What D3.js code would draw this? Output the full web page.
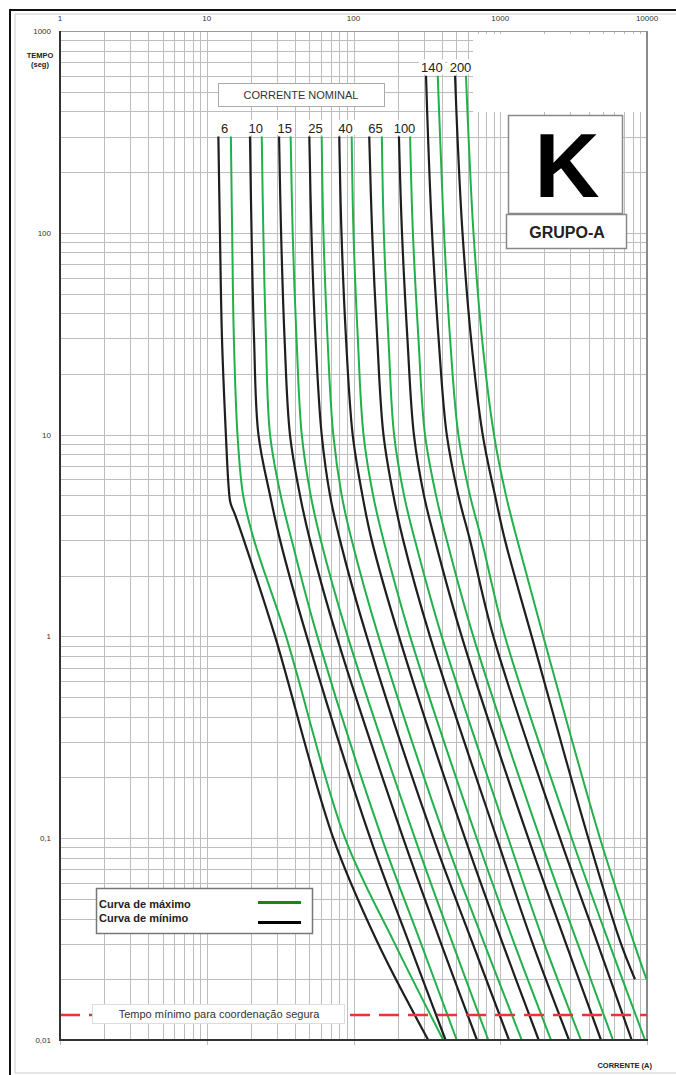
<!DOCTYPE html>
<html>
<head>
<meta charset="utf-8">
<script src="https://cdn.jsdelivr.net/npm/d3@7"></script>
<style>
  html, body { margin: 0; padding: 0; background: #fff; }
  svg { display: block; font-family: "Liberation Sans", Arial, sans-serif; }
</style>
</head>
<body>
<svg id="chart" width="676" height="1075"></svg>
<script>
// ---------------- DATA ----------------
const ratings = ["6", "10", "15", "25", "40", "65", "100", "140", "200"];

// [current (A), time (s)] — minimum melting curves (black)
const minCurves = [
  [[12.0,300],[12.3,100],[12.7,30],[13.5,10],[14.1,5.5],[14.5,4.6],[15.6,4.0],[17.9,3],[29.2,1],[72.8,0.1],[144,0.031],[323,0.01]],
  [[19.7,300],[20.2,100],[21.0,30],[22.5,10],[27.0,5],[31.6,3],[48.0,1],[130,0.1],[236,0.031],[424,0.01]],
  [[31.1,300],[32.1,100],[33.9,30],[36.9,10],[43.2,5],[50.5,3],[76.8,1],[218,0.1],[389,0.031],[694,0.01]],
  [[50.0,300],[51.7,100],[55.1,30],[60.7,10],[69.2,5],[80.9,3],[123,1],[350,0.1],[639,0.031],[1147,0.01]],
  [[80.0,300],[82.8,100],[88.9,30],[98.7,10],[115,5],[133,3],[204,1],[575,0.1],[1023,0.031],[1828,0.01]],
  [[128,300],[134,100],[145,30],[160,10],[187,5],[218,3],[332,1],[946,0.1],[1638,0.031],[2940,0.01]],
  [[204,300],[214,100],[233,30],[258,10],[302,5],[359,3],[546,1],[1552,0.1],[2761,0.031],[4858,0.01]],
  [[312,600],[322,300],[343,100],[380,30],[432,10],[518,5],[622,3],[897,1],[2553,0.1],[4540,0.031],[7864,0.01]],
  [[492,600],[511,300],[553,100],[632,30],[759,10],[921,5],[1077,3],[1638,1],[3981,0.1],[6544,0.031],[8282,0.02]]
];

// [current (A), time (s)] — maximum clearing curves (green)
const maxCurves = [
  [[14.6,300],[14.9,100],[15.3,30],[16.2,10],[17.7,5],[21.0,3],[34.7,1],[87.5,0.1],[187,0.031],[409,0.01]],
  [[23.7,300],[24.3,100],[25.3,30],[27.0,10],[31.9,5],[37.9,3],[56.7,1],[156,0.1],[284,0.031],[505,0.01]],
  [[37.3,300],[38.5,100],[40.9,30],[44.4,10],[51.1,5],[59.8,3],[91.3,1],[262,0.1],[467,0.031],[829,0.01]],
  [[60.7,300],[62.4,100],[66.5,30],[72.8,10],[83.1,5],[97.2,3],[148,1],[420,0.1],[766,0.031],[1400,0.01]],
  [[97.2,300],[100,100],[107,30],[117,10],[136,5],[160,3],[243,1],[691,0.1],[1227,0.031],[2217,0.01]],
  [[156,300],[161,100],[173,30],[189,10],[221,5],[262,3],[399,1],[1134,0.1],[1965,0.031],[3549,0.01]],
  [[243,300],[254,100],[277,30],[307,10],[365,5],[432,3],[655,1],[1865,0.1],[3318,0.031],[5864,0.01]],
  [[375,600],[389,300],[414,100],[455,30],[518,10],[622,5],[747,3],[1077,1],[3067,0.1],[5447,0.031],[9688,0.01]],
  [[584,600],[608,300],[657,100],[751,30],[906,10],[1094,5],[1306,3],[1965,1],[4783,0.1],[8064,0.031],[9918,0.02]]
];

const xTickValues = [1, 10, 100, 1000, 10000];
const xTickLabels = ["1", "10", "100", "1000", "10000"];
const yTickValues = [1000, 100, 10, 1, 0.1, 0.01];
const yTickLabels = ["1000", "100", "10", "1", "0,1", "0,01"];
const minCoordTime = 0.0133;

const titleLetter = "K";
const groupLabel = "GRUPO-A";
const nominalLabel = "CORRENTE NOMINAL";
const legendLabels = ["Curva de máximo", "Curva de mínimo"];
const xAxisTitle = "CORRENTE (A)";
const yAxisTitle = ["TEMPO", "(seg)"];
const coordLabel = "Tempo mínimo para coordenação segura";

// ---------------- LAYOUT ----------------
const svg = d3.select("#chart");
const L = 60, R = 647, T = 31, B = 1040;
const x = d3.scaleLog().domain([1, 10000]).range([L, R]);
const y = d3.scaleLog().domain([0.01, 1000]).range([B, T]);

const GREEN = "#22b04b", BLACK = "#1e1e1e", GRID = "#bdbdbd";

// outer frame
svg.append("line").attr("x1", 10).attr("x2", 676).attr("y1", 10).attr("y2", 10).attr("stroke", "#111").attr("stroke-width", 2);
svg.append("line").attr("x1", 15).attr("x2", 676).attr("y1", 14).attr("y2", 14).attr("stroke", "#ccc").attr("stroke-width", 1);
svg.append("line").attr("x1", 10).attr("x2", 10).attr("y1", 9).attr("y2", 1075).attr("stroke", "#111").attr("stroke-width", 2);
svg.append("line").attr("x1", 15).attr("x2", 15).attr("y1", 14).attr("y2", 1073).attr("stroke", "#ccc").attr("stroke-width", 1);
svg.append("line").attr("x1", 15).attr("x2", 676).attr("y1", 1073).attr("y2", 1073).attr("stroke", "#ccc").attr("stroke-width", 1);

// grid
const g = svg.append("g");
const xGrid = [];
for (let e = 0; e < 4; e++) for (let k = 1; k <= 9; k++) xGrid.push(k * Math.pow(10, e));
xGrid.push(10000);
const yGrid = [];
for (let e = -2; e < 3; e++) for (let k = 1; k <= 9; k++) yGrid.push(+(k * Math.pow(10, e)).toPrecision(3));
yGrid.push(1000);

g.selectAll(".vg").data(xGrid).join("line")
  .attr("x1", d => Math.round(x(d)) + 0.5).attr("x2", d => Math.round(x(d)) + 0.5)
  .attr("y1", T).attr("y2", d => (Math.abs(Math.log10(d) % 1) < 1e-9 ? B + 5 : B))
  .attr("stroke", GRID).attr("stroke-width", 1);
g.selectAll(".hg").data(yGrid).join("line")
  .attr("y1", d => Math.round(y(d)) + 0.5).attr("y2", d => Math.round(y(d)) + 0.5)
  .attr("x1", L).attr("x2", R)
  .attr("stroke", GRID).attr("stroke-width", 1);

// blank top-right area
svg.append("rect").attr("x", 473).attr("y", 34).attr("width", R - 473 - 1).attr("height", 78).attr("fill", "#fff");

// plot borders
svg.append("line").attr("x1", R).attr("x2", R).attr("y1", T).attr("y2", B).attr("stroke", "#8a8a8a").attr("stroke-width", 2);
svg.append("line").attr("x1", L).attr("x2", R).attr("y1", T + 0.5).attr("y2", T + 0.5).attr("stroke", "#9a9a9a").attr("stroke-width", 1);

// tick labels
svg.selectAll(".xt").data(xTickValues).join("text")
  .attr("x", d => x(d)).attr("y", 21)
  .attr("text-anchor", "middle").attr("font-size", 8).attr("fill", "#333")
  .text((d, i) => xTickLabels[i]);
svg.selectAll(".yt").data(yTickValues).join("text")
  .attr("x", 51).attr("y", d => y(d) + 3)
  .attr("text-anchor", "end").attr("font-size", 8).attr("fill", "#333")
  .text((d, i) => yTickLabels[i]);

// axis titles
svg.append("text").attr("x", 40).attr("y", 58).attr("text-anchor", "middle")
  .attr("font-size", 7.5).attr("font-weight", "bold").attr("fill", "#222").text(yAxisTitle[0]);
svg.append("text").attr("x", 40).attr("y", 67).attr("text-anchor", "middle")
  .attr("font-size", 7.5).attr("font-weight", "bold").attr("fill", "#222").text(yAxisTitle[1]);
svg.append("text").attr("x", 652).attr("y", 1068).attr("text-anchor", "end")
  .attr("font-size", 7.5).attr("font-weight", "bold").attr("fill", "#222").text(xAxisTitle);

// curves
const line = d3.line()
  .x(d => x(d[0])).y(d => y(d[1]))
  .curve(d3.curveCatmullRom.alpha(0.5));

const curvesG = svg.append("g").attr("fill", "none").attr("stroke-linejoin", "round");
curvesG.selectAll(".maxc").data(maxCurves).join("path")
  .attr("d", line).attr("stroke", GREEN).attr("stroke-width", 2);
curvesG.selectAll(".minc").data(minCurves).join("path")
  .attr("d", line).attr("stroke", BLACK).attr("stroke-width", 2.2);

// rating labels
const labG = svg.append("g");
ratings.forEach((r, i) => {
  const cx = (x(minCurves[i][0][0]) + x(maxCurves[i][0][0])) / 2;
  const by = y(minCurves[i][0][1]) - 3.5;
  const w = r.length * 7.5 + 4;
  labG.append("rect").attr("x", cx - w / 2).attr("y", by - 13).attr("width", w).attr("height", 15).attr("fill", "#fff");
  labG.append("text").attr("x", cx).attr("y", by).attr("text-anchor", "middle")
    .attr("font-size", 13).attr("fill", "#222").text(r);
});

// CORRENTE NOMINAL box
svg.append("rect").attr("x", 218.5).attr("y", 83.5).attr("width", 166).attr("height", 23)
  .attr("fill", "#fff").attr("stroke", "#aaa").attr("stroke-width", 1);
svg.append("text").attr("x", 301).attr("y", 98.5).attr("text-anchor", "middle")
  .attr("font-size", 11).attr("fill", "#333").text(nominalLabel);

// K box
svg.append("rect").attr("x", 508.5).attr("y", 115.5).attr("width", 114).attr("height", 98)
  .attr("fill", "#fff").attr("stroke", "#888").attr("stroke-width", 1.5);
svg.append("text").attr("x", 567).attr("y", 197).attr("text-anchor", "middle")
  .attr("font-size", 90).attr("font-weight", "bold").attr("fill", "#000").text(titleLetter);
svg.append("rect").attr("x", 506.5).attr("y", 214.5).attr("width", 120).attr("height", 34)
  .attr("fill", "#fff").attr("stroke", "#888").attr("stroke-width", 1.5);
svg.append("text").attr("x", 567).attr("y", 238).attr("text-anchor", "middle")
  .attr("font-size", 16).attr("font-weight", "bold").attr("fill", "#222").text(groupLabel);

// legend
svg.append("rect").attr("x", 96.5).attr("y", 888.5).attr("width", 216).attr("height", 45)
  .attr("fill", "#fff").attr("stroke", "#777").attr("stroke-width", 1.5);
svg.append("text").attr("x", 99).attr("y", 908).attr("font-size", 11).attr("font-weight", "bold")
  .attr("fill", "#222").text(legendLabels[0]);
svg.append("text").attr("x", 99).attr("y", 922).attr("font-size", 11).attr("font-weight", "bold")
  .attr("fill", "#222").text(legendLabels[1]);
svg.append("line").attr("x1", 258).attr("x2", 301).attr("y1", 902.5).attr("y2", 902.5)
  .attr("stroke", "#118a11").attr("stroke-width", 3);
svg.append("line").attr("x1", 258).attr("x2", 301).attr("y1", 922.5).attr("y2", 922.5)
  .attr("stroke", "#000").attr("stroke-width", 3);

// minimum coordination time line
svg.append("line").attr("x1", L).attr("x2", R).attr("y1", y(minCoordTime)).attr("y2", y(minCoordTime))
  .attr("stroke", "#ec3434").attr("stroke-width", 2.4).attr("stroke-dasharray", "20,9");
svg.append("rect").attr("x", 92.5).attr("y", 1004.5).attr("width", 252).attr("height", 19)
  .attr("fill", "#fff").attr("stroke", "#ddd").attr("stroke-width", 1);
svg.append("text").attr("x", 219).attr("y", 1017.5).attr("text-anchor", "middle")
  .attr("font-size", 11).attr("fill", "#333").text(coordLabel);

// left and bottom axis lines (dark)
svg.append("line").attr("x1", L).attr("x2", L).attr("y1", T).attr("y2", B + 1).attr("stroke", "#333").attr("stroke-width", 2);
svg.append("line").attr("x1", L).attr("x2", R + 1).attr("y1", B).attr("y2", B).attr("stroke", "#333").attr("stroke-width", 2);
</script>
</body>
</html>
